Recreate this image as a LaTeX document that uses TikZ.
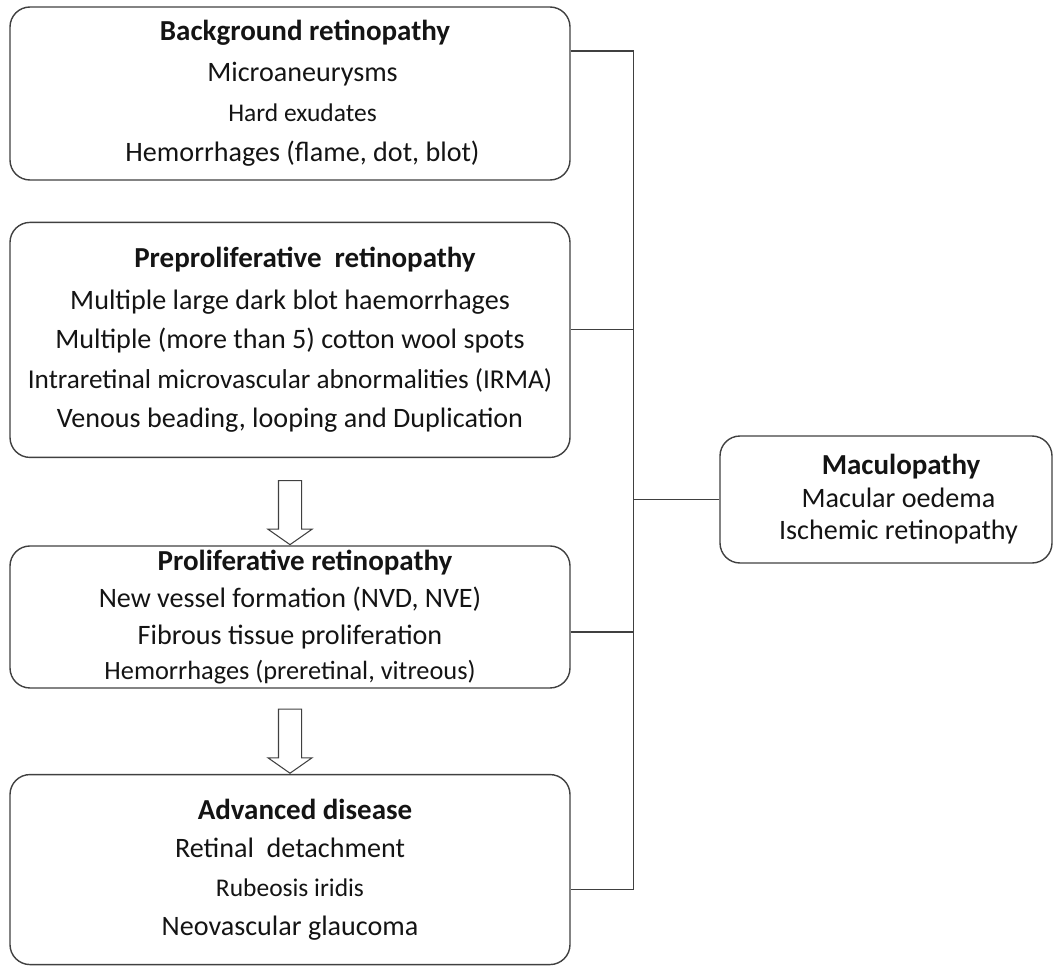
\documentclass[tikz,border=0pt]{standalone}
\usepackage{fontspec}
\setmainfont{Carlito}
\usetikzlibrary{shapes,arrows,positioning}
\definecolor{edge}{rgb}{.25,.25,.25}
\definecolor{ink}{rgb}{.08,.08,.08}
\def\StageHead#1{{\fontsize{16.5}{23}\selectfont\bfseries\hspace*{0.6cm}#1}}
\def\StageSmall#1{{\fontsize{14.5}{23}\selectfont #1}}
\def\Pad{\hspace*{0.5cm}}

\begin{document}
\begin{tikzpicture}[% styles used by all boxes and links
			every node/.style={
				align=center,		% "\\" breaks the lines
				text=ink,
				font=\fontsize{16}{22.5}\selectfont
			},
			stage/.style={rectangle,rounded corners=0.4cm,draw=edge,line width=0.8pt,minimum width=11.2cm,inner sep=0pt},
			flow/.style={single arrow,draw=edge,line width=0.6pt,shape border rotate=270,minimum height=1.28cm,minimum width=0.86cm,
				single arrow head extend=0.21cm,single arrow tip angle=110,inner sep=0.22cm},
			link/.style={draw=edge,line width=0.8pt}
		]
		\useasboundingbox (0,0) rectangle (21.1,-19.34);
		\node[stage,minimum height=3.46cm,font=\fontsize{16}{23}\selectfont](bg) at (5.8,-1.87){\StageHead{Background retinopathy}\\ \Pad Microaneurysms\\ \Pad\StageSmall{Hard exudates}\\ \Pad Hemorrhages (flame, dot, blot)};
		\node[stage,minimum height=4.70cm](pre)[below=0.82cm of bg]{\StageHead{Preproliferative \ retinopathy}\\[1pt] Multiple large dark blot haemorrhages\\ Multiple (more than 5) cotton wool spots\\ {\fontsize{15.5}{22.5}\selectfont Intraretinal microvascular abnormalities (IRMA)}\\ Venous beading, looping and Duplication};
		\node[flow,anchor=tail](f1) at ([yshift=-0.44cm]pre.south){};
		\node[stage,minimum height=2.84cm,font=\fontsize{16}{20}\selectfont](pro)[below=0 of f1.tip]{\StageHead{Proliferative retinopathy}\\[1pt] New vessel formation (NVD, NVE)\\[1pt] Fibrous tissue proliferation\\ {\fontsize{15}{19}\selectfont Hemorrhages (preretinal, vitreous)}};
		\node[flow,anchor=tail](f2) at ([yshift=-0.40cm]pro.south){};
		\node[stage,minimum height=3.80cm,font=\fontsize{16}{22}\selectfont](adv)[below=0 of f2.tip]{\StageHead{Advanced disease}\\ Retinal \ detachment\\ \StageSmall{Rubeosis iridis}\\ Neovascular glaucoma};
		\node[stage,minimum width=6.64cm,minimum height=2.54cm,font=\fontsize{16}{18.5}\selectfont](mac) at (17.72,-9.99){\StageHead{Maculopathy}\\ \Pad Macular oedema\\ \Pad Ischemic retinopathy};

		% outlets on the right side of the stages
		\coordinate (o1) at ([yshift=0.85cm]bg.east);
		\coordinate (o2) at ([yshift=0.21cm]pre.east);
		\coordinate (o3) at ([yshift=-0.30cm]pro.east);
		\coordinate (o4) at ([yshift=-0.40cm]adv.east);
		\coordinate (t1) at ([xshift=1.26cm]o1);
		\coordinate (t4) at ([xshift=1.26cm]o4);
		\path[link]
		(o1) -- (t1) -- (t4) -- (o4)
		(o2) -- (o2 -| t1)
		(o3) -- (o3 -| t1)
		(mac.west) -- (mac.west -| t1)
		;
	\end{tikzpicture}
\end{document}
